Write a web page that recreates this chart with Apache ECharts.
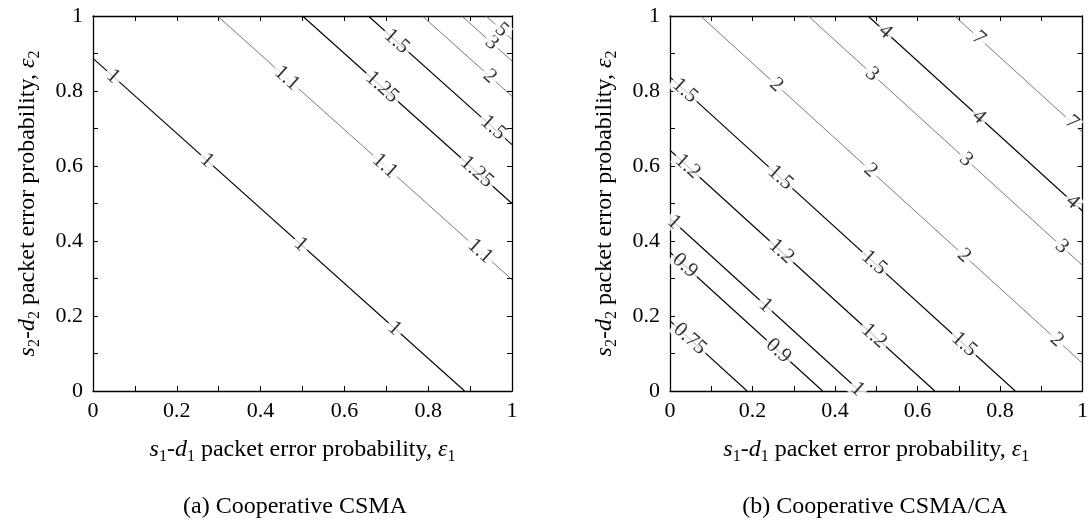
<!DOCTYPE html>
<html>
<head>
<meta charset="utf-8">
<script src="https://cdn.jsdelivr.net/npm/echarts@6/dist/echarts.min.js"></script>
<style>
html, body { margin: 0; padding: 0; background: #fff; }
#chart { width: 1091px; height: 529px; }
</style>
</head>
<body>
<div id="chart"></div>
<script>
// (a) Cooperative CSMA: contour levels, end points and label spots
const levelsA = ['1', '1.1', '1.25', '1.5', '2', '3', '5'];
const startA = [[0, 0.887], [0.297, 1], [0.5, 1], [0.657, 1], [0.786, 1], [0.88, 1], [0.938, 1]];
const endA = [[0.887, 0], [1, 0.297], [1, 0.5], [1, 0.657], [1, 0.786], [1, 0.88], [1, 0.938]];
const labelsA = [
    ['1', 0.048, 0.839], ['1', 0.272, 0.615], ['1', 0.496, 0.391], ['1', 0.72, 0.167],
    ['1.1', 0.463, 0.834], ['1.1', 0.697, 0.6], ['1.1', 0.924, 0.373],
    ['1.25', 0.69, 0.81], ['1.25', 0.916, 0.584],
    ['1.5', 0.725, 0.932], ['1.5', 0.955, 0.702],
    ['2', 0.947, 0.839],
    ['3', 0.952, 0.928],
    ['5', 0.975, 0.963],
];

// (b) Cooperative CSMA/CA
const levelsB = ['0.75', '0.9', '1', '1.2', '1.5', '2', '3', '4', '7'];
const startB = [[0, 0.187], [0, 0.37], [0, 0.46], [0, 0.642], [0, 0.837], [0.074, 1], [0.335, 1], [0.48, 1], [0.69, 1]];
const endB = [[0.187, 0], [0.37, 0], [0.46, 0], [0.642, 0], [0.837, 0], [1, 0.074], [1, 0.335], [1, 0.48], [1, 0.69]];
const labelsB = [
    ['0.75', 0.048, 0.139],
    ['0.9', 0.036, 0.334], ['0.9', 0.263, 0.107],
    ['1', 0.01, 0.45], ['1', 0.232, 0.228], ['1', 0.455, 0.005],
    ['1.2', 0.043, 0.599], ['1.2', 0.27, 0.372], ['1.2', 0.495, 0.147],
    ['1.5', 0.036, 0.801], ['1.5', 0.268, 0.569], ['1.5', 0.495, 0.342], ['1.5', 0.713, 0.124],
    ['2', 0.258, 0.816], ['2', 0.486, 0.588], ['2', 0.713, 0.361], ['2', 0.938, 0.136],
    ['3', 0.49, 0.845], ['3', 0.718, 0.617], ['3', 0.95, 0.385],
    ['4', 0.522, 0.958], ['4', 0.749, 0.731], ['4', 0.976, 0.504],
    ['7', 0.749, 0.941], ['7', 0.974, 0.716],
];

const tickValues = [0, 0.2, 0.4, 0.6, 0.8, 1];
const captions = ['(a) Cooperative CSMA', '(b) Cooperative CSMA/CA'];

// thinner grey contours
const thinA = ['1.1', '2', '3', '5'];
const thinB = ['2', '3', '7'];

const FONT = '"Liberation Serif", "DejaVu Serif", serif';
const chart = echarts.init(document.getElementById('chart'));

const nameRich = {
    r: { fontFamily: FONT, fontSize: 24, color: '#000', lineHeight: 30 },
    i: { fontFamily: FONT, fontSize: 24, fontStyle: 'italic', color: '#000', lineHeight: 30 },
    sub: { fontFamily: FONT, fontSize: 16, color: '#000', lineHeight: 16, verticalAlign: 'bottom' },
};
const axisName = n => `{i|s}{sub|${n}}{r|-}{i|d}{sub|${n}}{r| packet error probability, }{i|ε}{sub|${n}}`;

const grids = [
    { left: 93, top: 16, width: 419, height: 375 },
    { left: 670, top: 16, width: 418, height: 375 },
];

const xAxes = [];
const yAxes = [];
grids.forEach((g, k) => {
    const base = {
        type: 'value',
        gridIndex: k,
        min: 0,
        max: 1,
        interval: 0.2,
        axisLine: { onZero: false, lineStyle: { color: '#000', width: 1.3 } },
        axisTick: { inside: true, length: 5, lineStyle: { color: '#000', width: 1 } },
        minorTick: { show: true, splitNumber: 2, length: 5, lineStyle: { color: '#000', width: 1 } },
        splitLine: { show: false },
    };
    const label = {
        fontFamily: FONT, fontSize: 22, color: '#000', margin: 9,
        formatter: v => (tickValues.includes(+v.toFixed(1)) ? String(+v.toFixed(1)) : ''),
    };
    xAxes.push({
        ...base, position: 'bottom', axisLabel: label,
        name: axisName(1), nameLocation: 'middle', nameGap: 44,
        nameTextStyle: { rich: nameRich },
    });
    xAxes.push({ ...base, position: 'top', axisLabel: { show: false } });
    yAxes.push({
        ...base, position: 'left', axisLabel: { ...label, margin: 10 },
        name: axisName(2), nameLocation: 'middle', nameGap: 50,
        nameTextStyle: { rich: nameRich },
    });
    yAxes.push({ ...base, position: 'right', axisLabel: { show: false } });
});

const series = [];
[
    [levelsA, startA, endA, labelsA, thinA],
    [levelsB, startB, endB, labelsB, thinB],
].forEach(([levels, starts, ends, labels, thin], k) => {
    levels.forEach((lev, i) => {
        const isThin = thin.includes(lev);
        series.push({
            type: 'line',
            xAxisIndex: k * 2,
            yAxisIndex: k * 2,
            data: [starts[i], ends[i]],
            symbol: 'none',
            silent: true,
            lineStyle: { color: isThin ? '#555' : '#000', width: isThin ? 0.8 : 1.1 },
            z: 2,
        });
    });
    series.push({
        type: 'scatter',
        xAxisIndex: k * 2,
        yAxisIndex: k * 2,
        symbolSize: 0,
        silent: true,
        z: 5,
        data: labels.map(l => ({ name: l[0], value: [l[1], l[2]] })),
        label: {
            show: true,
            position: 'inside',
            formatter: '{b}',
            rotate: -41.8,
            fontFamily: FONT,
            fontSize: 21,
            color: '#000',
            backgroundColor: '#fff',
            padding: [-2, 3],
        },
    });
});

chart.setOption({
    animation: false,
    backgroundColor: '#fff',
    title: captions.map((t, k) => ({
        text: t,
        left: k === 0 ? 290 : 870,
        top: 490,
        textAlign: 'center',
        textStyle: { fontFamily: FONT, fontSize: 24, fontWeight: 'normal', color: '#000' },
    })),
    grid: grids,
    xAxis: xAxes,
    yAxis: yAxes,
    series,
});
</script>
</body>
</html>
